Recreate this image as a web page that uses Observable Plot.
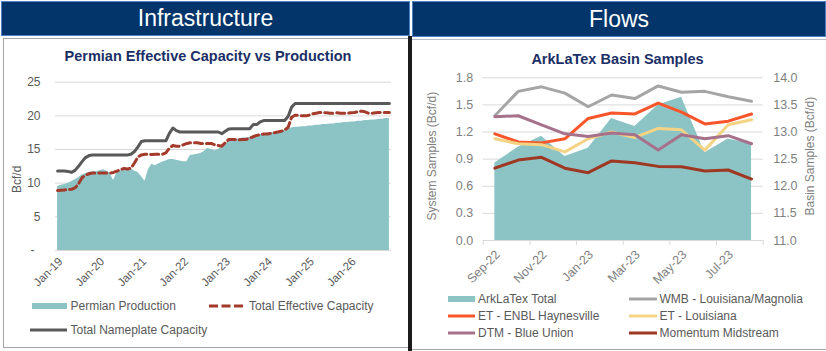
<!DOCTYPE html>
<html><head><meta charset="utf-8">
<script src="https://cdn.jsdelivr.net/npm/d3@7"></script>
<script src="https://cdn.jsdelivr.net/npm/@observablehq/plot@0.6"></script>
<style>
body{margin:0;background:#fff;font-family:Arial,"Liberation Sans",sans-serif;}
#page{position:relative;width:826px;height:351px;overflow:hidden;background:#fff;}
.hdr{position:absolute;background:#03346A;border:1px solid #4F81C4;color:#fff;font-size:23px;text-align:center;box-sizing:border-box;}
.ttl{position:absolute;font-weight:bold;font-size:14.5px;color:#1B2F66;white-space:nowrap;transform:translate(-50%,-50%);}
.lg{position:absolute;font-size:12px;color:#595959;white-space:nowrap;line-height:14px;}
.plot{position:absolute;}
</style>
</head><body>
<div id="page">
  <div class="hdr" style="left:1px;top:1px;width:409px;height:35px;line-height:33px;">Infrastructure</div>
  <div class="hdr" style="left:412px;top:1px;width:414px;height:36px;line-height:34px;">Flows</div>
  <div style="position:absolute;left:3px;top:38px;width:404px;height:308px;border:1px solid #A6A6A6;"></div>
  <div style="position:absolute;left:412px;top:39px;width:414px;height:1px;background:#B4BCC8;"></div>
  <div style="position:absolute;left:412px;top:349px;width:414px;height:1px;background:#A6A6A6;"></div>
  <div style="position:absolute;left:407.5px;top:36px;width:4px;height:315px;background:#1B1B1B;"></div>
  <div class="ttl" style="left:208px;top:56px;">Permian Effective Capacity vs Production</div>
  <div class="ttl" style="left:617.5px;top:59px;">ArkLaTex Basin Samples</div>
  <div id="left" class="plot" style="left:0;top:0;"></div>
  <div id="right" class="plot" style="left:410px;top:0;"></div>
  <div id="legends"></div>
</div>
<script>
// ---------- Left chart: Permian (monthly Jan-19 .. Dec-26) ----------
const permianTickLabels = ["Jan-19","Jan-20","Jan-21","Jan-22","Jan-23","Jan-24","Jan-25","Jan-26"];
const permianProduction = [
  9.5,9.7,9.8,10.0,10.2,10.5,10.8,11.2,11.4,11.6,
  11.7,11.7,11.8,12.0,11.8,11.5,10.4,11.5,11.8,12.0,
  12.1,12.1,11.8,11.6,11.0,10.3,12.0,12.8,12.6,12.9,
  13.1,13.3,13.5,13.5,13.4,13.3,13.2,13.2,14.1,14.2,
  14.3,14.4,14.7,15.2,15.0,14.8,15.0,15.3,15.8,16.1,
  16.3,16.5,16.6,16.7,16.7,16.8,16.9,17.1,17.2,17.3,
  17.4,17.5,17.5,17.6,17.7,17.9,18.1,18.2,18.3,18.3,
  18.4,18.4,18.5,18.5,18.6,18.6,18.7,18.7,18.8,18.8,
  18.9,18.9,19.0,19.0,19.1,19.1,19.2,19.2,19.3,19.3,
  19.4,19.4,19.5,19.5,19.6,19.6
];
const effectiveCapacity = [
  8.9,8.95,9.0,9.05,9.1,9.3,9.9,10.8,11.2,11.4,
  11.5,11.5,11.5,11.5,11.5,11.5,11.6,11.8,12.0,12.2,
  12.1,12.2,13.0,13.9,14.2,14.3,14.3,14.25,14.3,14.3,
  14.3,14.5,15.2,15.6,15.5,15.5,15.7,15.9,16.0,16.0,
  16.0,15.9,15.9,15.9,15.9,15.7,15.6,15.5,16.0,16.5,
  16.5,16.5,16.45,16.5,16.5,16.7,16.9,17.1,17.2,17.3,
  17.3,17.4,17.5,17.6,17.7,17.9,18.3,19.8,20.1,20.1,
  20.0,20.0,20.1,20.3,20.4,20.5,20.5,20.45,20.4,20.4,
  20.45,20.4,20.4,20.4,20.45,20.5,20.6,20.7,20.6,20.4,
  20.4,20.45,20.5,20.5,20.5,20.5
];
const nameplateCapacity = [
  11.8,11.8,11.8,11.75,11.6,11.9,12.5,13.2,13.8,14.1,
  14.2,14.2,14.2,14.2,14.2,14.2,14.2,14.2,14.2,14.2,
  14.2,14.3,14.7,15.4,16.2,16.3,16.3,16.3,16.3,16.3,
  16.3,16.3,17.4,18.2,17.8,17.6,17.6,17.6,17.6,17.6,
  17.6,17.6,17.6,17.6,17.6,17.6,17.6,17.35,17.7,18.05,
  18.1,18.1,18.1,18.1,18.1,18.1,18.7,18.7,19.1,19.3,
  19.3,19.3,19.3,19.3,19.3,19.3,19.9,21.3,21.85,21.85,
  21.85,21.85,21.85,21.85,21.85,21.85,21.85,21.85,21.85,21.85,
  21.85,21.85,21.85,21.85,21.85,21.85,21.85,21.85,21.85,21.85,
  21.85,21.85,21.85,21.85,21.85,21.85
];

// ---------- Right chart: ArkLaTex (Sep-22 .. Aug-23) ----------
const arkMonths = ["Sep-22","Oct-22","Nov-22","Dec-22","Jan-23","Feb-23","Mar-23","Apr-23","May-23","Jun-23","Jul-23","Aug-23"];
const arkLaTexTotal = [12.43,12.72,12.92,12.55,12.70,13.25,13.10,13.50,13.64,12.62,12.87,12.78]; // right axis
const wmbLouisianaMagnolia = [1.38,1.65,1.70,1.63,1.48,1.61,1.57,1.71,1.64,1.65,1.59,1.54];
const etEnblHaynesville = [1.18,1.09,1.08,1.125,1.35,1.41,1.40,1.52,1.42,1.29,1.32,1.40];
const etLouisiana = [1.125,1.07,1.06,0.98,1.125,1.20,1.14,1.24,1.225,1.0,1.28,1.335];
const dtmBlueUnion = [1.37,1.38,1.28,1.18,1.15,1.19,1.17,1.0,1.17,1.125,1.16,1.07];
const momentumMidstream = [0.80,0.89,0.92,0.80,0.75,0.88,0.86,0.82,0.815,0.77,0.78,0.68];
const leftTicks = [0,0.3,0.6,0.9,1.2,1.5,1.8];
const rightMin = 11, rightMax = 14, leftMax = 1.8;

const C = {teal:"#8CC4C6", red:"#A33A2B", dark:"#595959", gray:"#A5A5A5", orange:"#F8562A", yellow:"#F5D384", mauve:"#A5718B", brown:"#9E3822"};
const font = "Arial, 'Liberation Sans', sans-serif";

// Left plot
const rowsL = permianProduction.map((p, i) => ({i, prod: p, eff: effectiveCapacity[i], name: nameplateCapacity[i]}));
const leftPlot = Plot.plot({
  width: 410, height: 300,
  marginTop: 81.7, marginBottom: 50, marginLeft: 55, marginRight: 19,
  style: {background: "transparent", fontFamily: font, fontSize: "12px", color: "#595959"},
  x: {type: "linear", domain: [-0.6, 95.6]},
  y: {domain: [0, 25]},
  marks: [
    Plot.gridY([0,5,10,15,20,25], {stroke: "#D9D9D9", strokeOpacity: 1}),
    Plot.areaY(rowsL, {x: "i", y: "prod", fill: C.teal}),
    Plot.lineY(rowsL, {x: "i", y: "eff", stroke: C.red, strokeWidth: 3, strokeDasharray: "8,4"}),
    Plot.lineY(rowsL, {x: "i", y: "name", stroke: C.dark, strokeWidth: 3}),
    Plot.axisY({ticks: [5,10,15,20,25], tickSize: 0, tickPadding: 15, label: null,
      tickFormat: d => String(d), fill: "#595959", fontSize: 12}),
    Plot.axisY({ticks: [0], tickSize: 0, tickPadding: 21, label: null,
      tickFormat: () => "-", fill: "#595959", fontSize: 12}),
    Plot.axisX({ticks: permianTickLabels.map((_, k) => k * 12), tickSize: 0, tickPadding: 9, label: null,
      tickRotate: -45, tickFormat: i => permianTickLabels[i / 12], fill: "#595959", fontSize: 11.5, dx: 3}),
    Plot.text(["Bcf/d"], {frameAnchor: "left", textAnchor: "middle", rotate: -90, dx: -38, dy: 13, fill: "#595959", fontSize: 12})
  ]
});
document.getElementById("left").appendChild(leftPlot);

// Right plot
const toLeft = v => (v - rightMin) / (rightMax - rightMin) * leftMax;
const rowsR = arkMonths.map((m, i) => ({i, total: toLeft(arkLaTexTotal[i])}));
const series = [
  {name: "WMB - Louisiana/Magnolia", values: wmbLouisianaMagnolia, color: C.gray},
  {name: "ET - ENBL Haynesville", values: etEnblHaynesville, color: C.orange},
  {name: "ET - Louisiana", values: etLouisiana, color: C.yellow},
  {name: "DTM - Blue Union", values: dtmBlueUnion, color: C.mauve},
  {name: "Momentum Midstream", values: momentumMidstream, color: C.brown}
];
const rightPlot = Plot.plot({
  width: 416, height: 290,
  marginTop: 77.3, marginBottom: 50, marginLeft: 72.7, marginRight: 63.3,
  style: {background: "transparent", fontFamily: font, fontSize: "12px", color: "#595959"},
  x: {type: "linear", domain: [-0.5, 11.5]},
  y: {domain: [0, leftMax]},
  marks: [
    Plot.gridY(leftTicks, {stroke: "#D9D9D9", strokeOpacity: 1}),
    Plot.areaY(rowsR, {x: "i", y: "total", fill: C.teal}),
    ...series.map(s => Plot.lineY(s.values.map((v, i) => ({i, v})), {x: "i", y: "v", stroke: s.color, strokeWidth: 3})),
    Plot.axisY({ticks: leftTicks, tickSize: 0, tickPadding: 10, label: null, tickFormat: d => d.toFixed(1), fill: "#7F7F7F", fontSize: 12.5}),
    Plot.axisY({anchor: "right", ticks: leftTicks, tickSize: 0, tickPadding: 10, label: null,
      tickFormat: d => (rightMin + d / leftMax * (rightMax - rightMin)).toFixed(1), fill: "#7F7F7F", fontSize: 12.5}),
    Plot.axisX({ticks: [-0.5,1.5,3.5,5.5,7.5,9.5,11.5], tickSize: 5, tickFormat: () => "", label: null, stroke: "#D9D9D9"}),
    Plot.axisX({ticks: [0,2,4,6,8,10], tickSize: 0, tickPadding: 12, label: null, tickRotate: -45,
      tickFormat: i => arkMonths[i], fill: "#7F7F7F", fontSize: 12.5, dx: 3}),
    Plot.text(["System Samples (Bcf/d)"], {frameAnchor: "left", textAnchor: "middle", rotate: -90, dx: -51, dy: -3, fill: "#7F7F7F", fontSize: 12}),
    Plot.text(["Basin Samples (Bcf/d)"], {frameAnchor: "right", textAnchor: "middle", rotate: -90, dx: 47, dy: -3, fill: "#7F7F7F", fontSize: 12})
  ]
});
document.getElementById("right").appendChild(rightPlot);

// Legends
const leg = document.getElementById("legends");
function swatch(x, y, w, kind, color) {
  const ns = "http://www.w3.org/2000/svg";
  const svg = document.createElementNS(ns, "svg");
  svg.setAttribute("width", w); svg.setAttribute("height", 8);
  svg.style.position = "absolute"; svg.style.left = x + "px"; svg.style.top = (y - 4) + "px";
  if (kind === "rect") {
    const r = document.createElementNS(ns, "rect");
    r.setAttribute("x", 0); r.setAttribute("y", 1); r.setAttribute("width", w); r.setAttribute("height", 6);
    r.setAttribute("fill", color); svg.appendChild(r);
  } else {
    const l = document.createElementNS(ns, "line");
    l.setAttribute("x1", 0); l.setAttribute("x2", w); l.setAttribute("y1", 4); l.setAttribute("y2", 4);
    l.setAttribute("stroke", color); l.setAttribute("stroke-width", 3);
    if (kind === "dash") l.setAttribute("stroke-dasharray", "9,3.5");
    svg.appendChild(l);
  }
  leg.appendChild(svg);
}
function label(x, y, text) {
  const d = document.createElement("div");
  d.className = "lg"; d.textContent = text;
  d.style.left = x + "px"; d.style.top = (y - 7) + "px";
  leg.appendChild(d);
}
swatch(32, 306, 35, "rect", C.teal); label(70.5, 306, "Permian Production");
swatch(209, 306, 34, "dash", C.red); label(249, 306, "Total Effective Capacity");
swatch(30, 329.5, 37, "line", C.dark); label(70.5, 329.5, "Total Nameplate Capacity");

const rightLegend = [
  {name: "ArkLaTex Total", color: C.teal, kind: "rect"},
  ...series.map(s => ({name: s.name, color: s.color, kind: "line"}))
];
rightLegend.forEach((e, k) => {
  const col = k % 2, row = Math.floor(k / 2);
  const x = col === 0 ? 448 : 628.5;
  const y = 298.5 + row * 17;
  swatch(x, y, col === 0 ? 27 : 28, e.kind, e.color);
  label(x + (col === 0 ? 30 : 31), y, e.name);
});
</script>
</body></html>
